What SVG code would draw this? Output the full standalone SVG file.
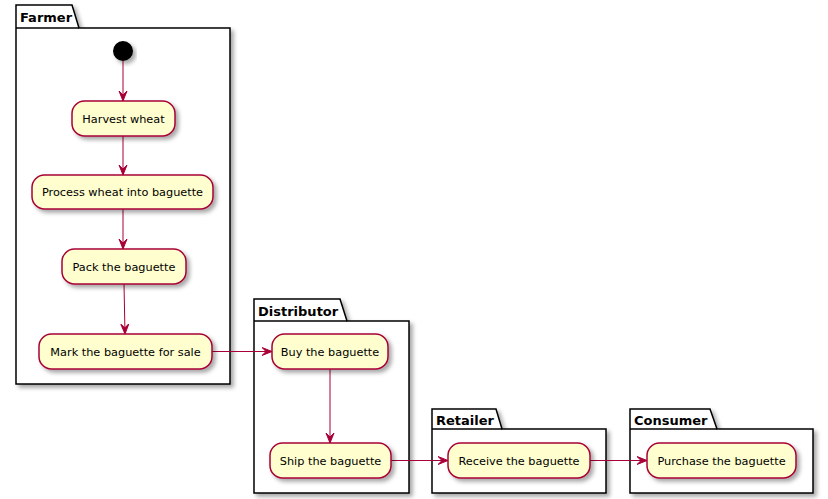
<svg xmlns="http://www.w3.org/2000/svg" width="828" height="499" viewBox="0 0 828 499">
<style>
.pkg{fill:#ffffff;stroke:#000000;stroke-width:1.5;filter:url(#sh)}
.ptitle{font-family:"DejaVu Sans",sans-serif;font-size:13px;font-weight:bold;fill:#000}
.act{fill:#FEFECE;stroke:#A80036;stroke-width:1.5;filter:url(#sh)}
.lbl{font-family:"DejaVu Sans",sans-serif;font-size:11.3px;fill:#000;text-anchor:middle}
.edge{stroke:#A80036;stroke-width:1;fill:none;marker-end:url(#ah)}
</style>
<defs>
<filter id="sh" x="-10%" y="-10%" width="130%" height="140%">
<feDropShadow dx="3" dy="3" stdDeviation="2" flood-color="#000" flood-opacity="0.35"/>
</filter>
<marker id="ah" viewBox="0 0 10 10" refX="10" refY="5" markerWidth="10" markerHeight="10" markerUnits="userSpaceOnUse" orient="auto">
<path d="M0,1 L10,5 L0,9 L4,5 Z" fill="#A80036" stroke="#A80036" stroke-width="1"/>
</marker>
</defs>

<g id="pkg-farmer">
<path class="pkg" d="M16,5 L72,5 L79,28 L230,28 L230,384 L16,384 Z"/>
<line x1="16" y1="28" x2="79" y2="28" stroke="#000" stroke-width="1.5"/>
<text class="ptitle" x="20" y="22">Farmer</text>
</g>
<g id="pkg-distributor">
<path class="pkg" d="M254,299 L340,299 L347,321 L409,321 L409,493 L254,493 Z"/>
<line x1="254" y1="321" x2="347" y2="321" stroke="#000" stroke-width="1.5"/>
<text class="ptitle" x="258" y="316">Distributor</text>
</g>
<g id="pkg-retailer">
<path class="pkg" d="M432,409 L496,409 L502,429 L606,429 L606,493 L432,493 Z"/>
<line x1="432" y1="429" x2="502" y2="429" stroke="#000" stroke-width="1.5"/>
<text class="ptitle" x="436" y="425">Retailer</text>
</g>
<g id="pkg-consumer">
<path class="pkg" d="M630,409 L710,409 L717,429 L813,429 L813,493 L630,493 Z"/>
<line x1="630" y1="429" x2="717" y2="429" stroke="#000" stroke-width="1.5"/>
<text class="ptitle" x="634" y="425">Consumer</text>
</g>

<g id="connectors">
<line class="edge" x1="123" y1="61" x2="123" y2="101"/>
<line class="edge" x1="123" y1="136" x2="123" y2="175"/>
<line class="edge" x1="123" y1="209" x2="123" y2="249"/>
<line class="edge" x1="124" y1="284" x2="125" y2="334"/>
<line class="edge" x1="212" y1="351.5" x2="272" y2="351.5"/>
<line class="edge" x1="330" y1="369" x2="330" y2="443"/>
<line class="edge" x1="391" y1="460.5" x2="448" y2="460.5"/>
<line class="edge" x1="590" y1="460.5" x2="647" y2="460.5"/>
</g>

<g id="start">
<circle cx="123" cy="51" r="10" fill="#000" filter="url(#sh)"/>
</g>
<g id="harvest">
<rect class="act" x="72" y="101" width="103" height="35" rx="12.5" ry="12.5"/>
<text class="lbl" x="123.5" y="122.5">Harvest wheat</text>
</g>
<g id="process">
<rect class="act" x="32" y="175" width="181" height="34" rx="12.5" ry="12.5"/>
<text class="lbl" x="122.5" y="196">Process wheat into baguette</text>
</g>
<g id="pack">
<rect class="act" x="62" y="249" width="124" height="35" rx="12.5" ry="12.5"/>
<text class="lbl" x="124" y="270.5">Pack the baguette</text>
</g>
<g id="mark">
<rect class="act" x="39" y="334" width="173" height="35" rx="12.5" ry="12.5"/>
<text class="lbl" x="125.5" y="355.5">Mark the baguette for sale</text>
</g>
<g id="buy">
<rect class="act" x="272" y="334" width="116" height="35" rx="12.5" ry="12.5"/>
<text class="lbl" x="330" y="355.5">Buy the baguette</text>
</g>
<g id="ship">
<rect class="act" x="270" y="443" width="121" height="35" rx="12.5" ry="12.5"/>
<text class="lbl" x="330.5" y="464.5">Ship the baguette</text>
</g>
<g id="receive">
<rect class="act" x="448" y="443" width="142" height="35" rx="12.5" ry="12.5"/>
<text class="lbl" x="519" y="464.5">Receive the baguette</text>
</g>
<g id="purchase">
<rect class="act" x="647" y="443" width="149" height="35" rx="12.5" ry="12.5"/>
<text class="lbl" x="721.5" y="464.5">Purchase the baguette</text>
</g>
</svg>
